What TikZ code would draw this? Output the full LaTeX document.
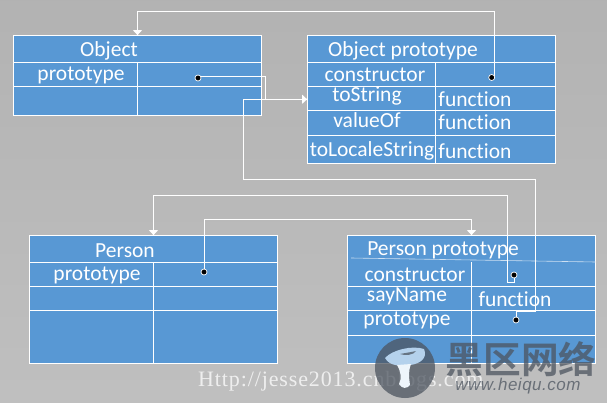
\documentclass[tikz,border=0pt]{standalone}
\usepackage{fontspec}
\setmainfont{Carlito}[Ligatures=CommonOff]
\newfontfamily\cjkfont{Noto Sans CJK SC}[BoldFont={Noto Sans CJK SC Bold}]
\newfontfamily\markfont{Liberation Sans}[LetterSpace=3]
\newfontfamily\urlfont{Liberation Serif}[LetterSpace=4]
\usetikzlibrary{arrows.meta}
\definecolor{cellblue}{HTML}{5898D4}
\definecolor{markgray}{HTML}{4D5560}
\tikzset{
    tablebox/.style={draw=white, fill=cellblue, line width=0.8pt, minimum width=248pt, inner sep=0pt},
    rule/.style={draw=white, line width=0.8pt},
    link/.style={draw=white, line width=0.8pt},
    linkhead/.style={link, -{Triangle[width=9pt, length=5pt, fill=white]}},
    pin/.style={circle, draw=white, fill=black, line width=0.7pt, minimum size=6pt, inner sep=0pt},
    cell/.style={text=white, inner sep=0pt, font=\fontsize{21.5}{21.5}\selectfont}
}
\begin{document}
\begin{tikzpicture}[x=1pt, y=-1pt]

    \def\Wd{607};
    \def\Ht{403};

    % background
    \shade[top color=black!30, bottom color=black!25] (0, 0) rectangle (\Wd, \Ht);
    \useasboundingbox (0, 0) rectangle (\Wd, \Ht);

    % tables
    \node[tablebox, minimum height=80pt] (object) at (137.5, 75.5) {};
    \node[tablebox, minimum height=127.5pt] (objectproto) at (431.5, 99.25) {};
    \node[tablebox, minimum height=127.5pt] (person) at (153.5, 299.25) {};
    \node[tablebox, minimum height=127.5pt] (personproto) at (471.5, 299.25) {};

    % rows and columns
    \foreach \Y in {62.5, 86.5}
        \draw[rule] (13.5, \Y) -- (261.5, \Y);
    \draw[rule] (137.5, 62.5) -- (137.5, 115.5);

    \foreach \Y in {62.5, 86.5, 110.5, 135.5}
        \draw[rule] (307.5, \Y) -- (555.5, \Y);
    \draw[rule] (435.5, 62.5) -- (435.5, 163);

    \foreach \Y in {262, 286, 310}
        \draw[rule] (29.5, \Y) -- (277.5, \Y);
    \draw[rule] (153.5, 262) -- (153.5, 363);

    \foreach \Y in {286.5, 310.5, 335.5}
        \draw[rule] (347.5, \Y) -- (595.5, \Y);
    \draw[rule, line width=0.6pt, white!70!cellblue] (351, 258) -- (595.5, 262);
    \draw[rule] (471.5, 262) -- (471.5, 363);

    % dots
    \coordinate (objectdot) at (198, 78);
    \coordinate (objectprotodot) at (491.7, 77.5);
    \coordinate (persondot) at (204, 272);
    \coordinate (constructordot) at (514, 275);
    \coordinate (protodot) at (516, 320);

    % arrows
    \draw[linkhead] (494, 77.5) -- (494, 11.5) -- (137.5, 11.5) -- (object.north);
    \draw[linkhead] (objectdot) ++(0, -1.5) -- (265.5, 76.5) -- (265.5, 99.25) -- (objectproto.west);
    \draw[link] (protodot) -- (516, 311.3) -- (535.7, 311.3) -- (535.7, 179.5) -- (243.5, 179.5) -- (243.5, 99.25) -- (objectproto.west);
    \draw[linkhead] (persondot) -- (204, 219.3) -- (471.5, 219.3) -- (personproto.north);
    \draw[linkhead] (constructordot) -- (514, 282.3) -- (507.3, 282.3) -- (507.3, 195.5) -- (153.5, 195.5) -- (person.north);

    \foreach \P in {objectdot, objectprotodot, persondot, constructordot, protodot}
        \node[pin] at (\P) {};

    % labels
    \node[cell] (objecttitle) at (109, 50.5) {Object};
    \node[cell] (objectslot) at (81, 75) {prototype};

    \node[cell] (prototitle) at (403, 50.5) {Object prototype};
    \node[cell] (ctorslot) at (375, 74.5) {constructor};
    \node[cell] (tostringslot) at (367, 96) {toString};
    \node[cell] (valueofslot) at (367, 120) {valueOf};
    \node[cell] (localeslot) at (372, 151) {toLocaleString};
    \node[cell] (tostringfn) at (475, 99) {function};
    \node[cell] (valueoffn) at (475, 122) {function};
    \node[cell] (localefn) at (475, 151) {function};

    \node[cell] (persontitle) at (125, 250.5) {Person};
    \node[cell] (personslot) at (97, 275) {prototype};

    \node[cell] (personprototitle) at (443, 250.5) {Person prototype};
    \node[cell] (personctorslot) at (415, 274.5) {constructor};
    \node[cell] (saynameslot) at (407, 296) {sayName};
    \node[cell] (protoslot) at (407, 320) {prototype};
    \node[cell] (saynamefn) at (515, 299) {function};

    % watermark
    \node[text=white, opacity=0.75, anchor=west, inner sep=0pt, font=\urlfont\fontsize{22}{22}\selectfont] (siteurl) at (198, 381) {Http://jesse2013.cnblogs.com};
    \fill[markgray, opacity=0.75] (405, 368) circle (30);
    \fill[white!55!cellblue] (385, 358) .. controls (392, 350) and (412, 345) .. (424, 349) .. controls (428, 358) and (420, 364) .. (410, 365) .. controls (402, 366) and (390, 367) .. cycle;
    \fill[white!90!cellblue] (397, 365) -- (411, 364) .. controls (408, 372) and (409, 378) .. (410, 385) .. controls (407, 389) and (402, 389) .. (399, 384) .. controls (402, 378) and (401, 372) .. cycle;
    \fill[markgray, opacity=0.75] (400, 354) .. controls (405, 353) and (412, 352) .. (416, 351) .. controls (414, 355) and (405, 356) .. cycle;
    \node[text=markgray, opacity=0.75, inner sep=0pt, text height=30pt, text depth=2pt, xscale=1.02, font=\cjkfont\bfseries\fontsize{37}{37}\selectfont] (marktitle) at (521, 359) {黑区网络};
    \node[text=markgray, opacity=0.75, inner sep=0pt, font=\markfont\itshape\fontsize{17}{17}\selectfont] (markurl) at (518, 386) {www.heiqu.com};

\end{tikzpicture}
\end{document}
